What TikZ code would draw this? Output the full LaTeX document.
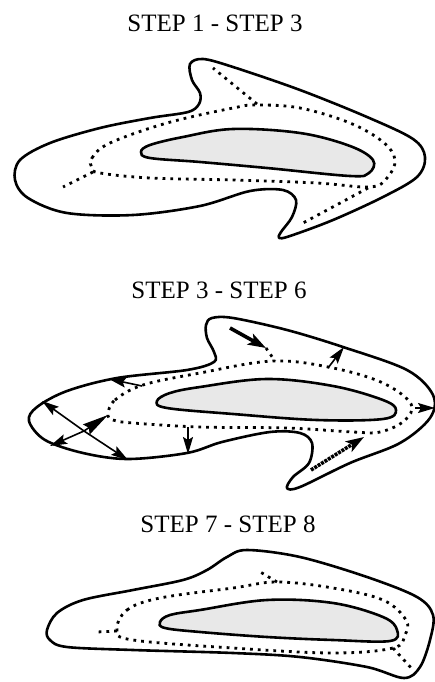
\documentclass[tikz,border=0pt]{standalone}
\usepackage{fontspec}
\setmainfont{Liberation Serif}
\usetikzlibrary{arrows.meta}

\begin{document}
\begin{tikzpicture}[x=1pt, y=-1pt, >=Stealth,
		outline/.style={line width=2.6pt, line join=round},
		core/.style={line width=2.6pt, fill=gray!18},
		front/.style={line width=2.8pt, dash pattern=on 2.8pt off 5pt},
		push/.style={line width=1.6pt, -{Stealth[length=17pt, width=10pt, inset=3pt]}},
		wedge/.style={line width=1.6pt, -{Stealth[length=26pt, width=12pt, inset=3pt]}},
		bigpush/.style={line width=3.6pt, -{Stealth[length=18pt, width=12pt, inset=4pt]}},
		steptitle/.style={font=\fontsize{25}{30}\selectfont, anchor=base}]
		
		\useasboundingbox (0,0) rectangle (435,682);
		
		% ---------- Titles ----------
		\node[steptitle] (t1) at (215,32)  {STEP 1 - STEP 3};
		\node[steptitle] (t2) at (219,298) {STEP 3 - STEP 6};
		\node[steptitle] (t3) at (228,532) {STEP 7 - STEP 8};
		
		% ---------- Panel 1 ----------
		\draw[outline] plot[smooth cycle, tension=0.55] coordinates {
			(203,59) (190,64) (192,80) (200,93) (199,104) (188,112) (150,118)
			(100,128) (50,143) (20,160) (15,180) (28,198) (67,213) (133,215)
			(200,206) (250,191) (283,190) (296,200) (292,217) (281,232) (279,238)
			(290,236) (333,220) (383,197) (417,177) (425,157) (413,139) (367,117)
			(300,90) (233,67)};
		\draw[core] plot[smooth cycle, tension=0.6] coordinates {
			(141,152) (150,145) (183,137) (233,129) (300,133) (350,146)
			(373,160) (369,173) (350,176) (267,168) (200,162) (150,158)};
		\draw[front] plot[smooth cycle, tension=0.6] coordinates {
			(92,168) (92,158) (110,143) (167,123) (233,108) (257,105) (300,108)
			(350,123) (383,142) (395,160) (387,178) (370,187) (317,183)
			(233,180) (150,178) (100,173)};
		\coordinate (j1a) at (93,172);  \coordinate (e1a) at (63,187);
		\coordinate (j1b) at (257,104); \coordinate (e1b) at (213,68);
		\coordinate (j1c) at (368,188); \coordinate (e1c) at (303,223);
		\foreach \j/\e in {j1a/e1a, j1b/e1b, j1c/e1c}
		\draw[front] (\j) -- (\e);
		
		% ---------- Panel 2 ----------
		\draw[outline] plot[smooth cycle, tension=0.55] coordinates {
			(212,318) (206,325) (207,338) (214,352) (214,362) (187,370)
			(117,378) (67,391) (37,407) (29,421) (45,440) (83,453) (128,459)
			(187,453) (222,442) (270,432) (300,433) (312,443) (309,463)
			(293,477) (287,488) (300,487) (350,463) (400,443) (430,418)
			(433,395) (407,370) (343,347) (287,330) (233,318)};
		\draw[core] plot[smooth cycle, tension=0.6] coordinates {
			(157,401) (170,393) (200,387) (267,379) (333,386) (383,400)
			(396,410) (383,419) (317,420) (233,414) (167,408)};
		\draw[front] plot[smooth cycle, tension=0.6] coordinates {
			(108,414) (115,400) (143,385) (200,373) (273,361) (333,368)
			(383,383) (411,404) (404,421) (380,432) (353,432) (287,428)
			(200,427) (133,423) (113,420)};
		
		% spreading of the front
		\coordinate (c2) at (84,431);
		\coordinate (u2) at (42,401);  \coordinate (l2) at (50,446);
		\coordinate (r2) at (128,460); \coordinate (f2) at (108,415);
		\foreach \e in {u2,l2,r2}
		\draw[push] (c2) -- (\e);
		\draw[wedge] (c2) -- (f2);
		\coordinate (a2s) at (142,386); \coordinate (a2e) at (109,379);
		\coordinate (b2s) at (188,427); \coordinate (b2e) at (188,454);
		\coordinate (d2s) at (328,368); \coordinate (d2e) at (344,347);
		\coordinate (g2s) at (415,408); \coordinate (g2e) at (435,408);
		\foreach \s/\e in {a2s/a2e, b2s/b2e, d2s/d2e, g2s/g2e}
		\draw[push] (\s) -- (\e);
		
		% incoming fronts
		\coordinate (h2s) at (230,328); \coordinate (h2e) at (266,348);
		\draw[bigpush] (h2s) -- (h2e);
		\draw[front] (h2e) -- (275,361);
		\coordinate (k2s) at (311,470); \coordinate (k2e) at (364,437);
		\draw[bigpush, dash pattern=on 3pt off 1pt] (k2s) -- (k2e);
		
		% ---------- Panel 3 ----------
		\draw[outline] plot[smooth cycle, tension=0.55] coordinates {
			(247,550) (300,557) (367,577) (417,597) (433,615) (430,640)
			(420,667) (404,678) (367,667) (300,657) (233,653) (133,650)
			(67,647) (50,640) (47,630) (57,613) (83,600) (133,590) (183,580)
			(207,570) (227,557)};
		\draw[core] plot[smooth cycle, tension=0.6] coordinates {
			(160,622) (170,615) (200,610) (267,600) (333,603) (383,617)
			(397,630) (390,641) (333,640) (267,637) (200,632) (165,628)};
		\draw[front] plot[smooth cycle, tension=0.6] coordinates {
			(117,630) (127,610) (160,598) (233,588) (277,582) (333,588)
			(383,600) (406,620) (405,635) (393,648) (333,653) (233,648)
			(133,640)};
		\coordinate (j3a) at (117,631); \coordinate (e3a) at (97,632);
		\coordinate (j3b) at (277,582); \coordinate (e3b) at (257,570);
		\coordinate (j3c) at (393,648); \coordinate (e3c) at (413,670);
		\foreach \j/\e in {j3a/e3a, j3b/e3b, j3c/e3c}
		\draw[front] (\j) -- (\e);
		
	\end{tikzpicture}
\end{document}
